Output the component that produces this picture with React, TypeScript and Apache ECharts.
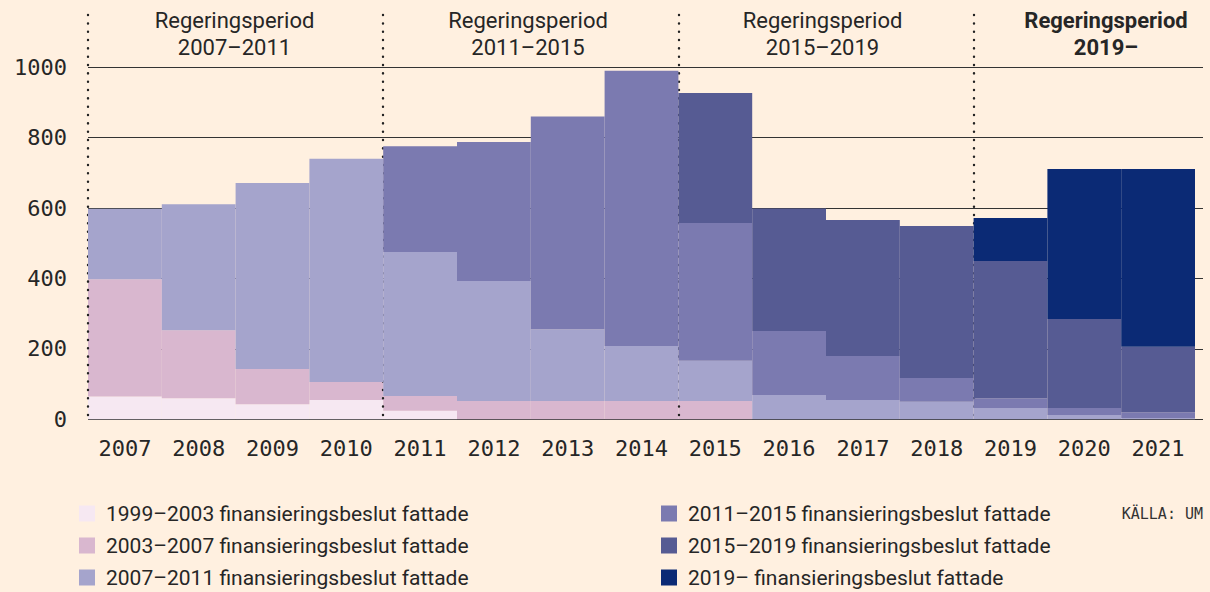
import React, { useEffect, useRef } from 'react';
import * as echarts from 'echarts';

const years = ['2007', '2008', '2009', '2010', '2011', '2012', '2013', '2014', '2015', '2016', '2017', '2018', '2019', '2020', '2021'];

const seriesNames = [
  '1999–2003 finansieringsbeslut fattade',
  '2003–2007 finansieringsbeslut fattade',
  '2007–2011 finansieringsbeslut fattade',
  '2011–2015 finansieringsbeslut fattade',
  '2015–2019 finansieringsbeslut fattade',
  '2019– finansieringsbeslut fattade',
];

const s1999 = [65, 60, 43, 55, 24, 0, 0, 0, 0, 0, 0, 0, 0, 0, 0];
const s2003 = [333, 193, 100, 51, 42, 52, 52, 52, 52, 0, 0, 0, 0, 0, 0];
const s2007 = [200, 358, 528, 634, 409, 341, 204, 156, 114, 69, 55, 50, 32, 12, 4];
const s2011 = [0, 0, 0, 0, 301, 395, 604, 782, 392, 182, 125, 67, 28, 20, 16];
const s2015 = [0, 0, 0, 0, 0, 0, 0, 0, 369, 348, 386, 432, 390, 253, 186];
const s2019 = [0, 0, 0, 0, 0, 0, 0, 0, 0, 0, 0, 0, 122, 426, 505];

const periodLabels = [
  'Regeringsperiod\n2007–2011',
  'Regeringsperiod\n2011–2015',
  'Regeringsperiod\n2015–2019',
  'Regeringsperiod\n2019–',
];

const colors = ['#f6e8f2', '#d9b7cf', '#a5a4cc', '#7b7ab0', '#565b93', '#0b2a75'];

const TEXT = '#262626';

export default function App() {
  const ref = useRef<HTMLDivElement>(null);

  useEffect(() => {
    if (!ref.current) return;
    const chart = echarts.init(ref.current, undefined, { renderer: 'svg' });
    const data = [s1999, s2003, s2007, s2011, s2015, s2019];
    const periodX = [234.5, 528, 822.5, 1106];

    const legendBase = {
      top: 503,
      height: 110,
      orient: 'vertical',
      padding: 0,
      itemWidth: 16,
      itemHeight: 16,
      itemGap: 11,
      icon: 'rect',
      selectedMode: false,
      textStyle: { color: TEXT, fontSize: 21, lineHeight: 16, fontFamily: 'Roboto', padding: [0, 0, 0, 6] },
    };

    const option: any = {
      animation: false,
      backgroundColor: '#fff0e0',
      grid: [
        { left: 88, top: 67.3, width: 1107, height: 352, containLabel: false },
        { left: 88, top: 67.3, width: 1115, height: 352, containLabel: false },
        { left: 88, top: 15, width: 1107, height: 404.3, containLabel: false },
      ],
      xAxis: [
        {
          type: 'category',
          gridIndex: 0,
          data: years,
          axisLine: { show: false },
          axisTick: { show: false },
          splitLine: { show: false },
          axisLabel: { color: TEXT, fontSize: 22, fontFamily: 'DejaVu Sans Mono', margin: 18 },
        },
        {
          type: 'value',
          gridIndex: 1,
          min: 0,
          max: 1,
          show: false,
        },
        {
          type: 'value',
          gridIndex: 2,
          min: 0,
          max: 15,
          interval: 4,
          z: 3,
          axisLine: { show: false },
          axisTick: { show: false },
          axisLabel: { show: false },
          splitLine: {
            show: true,
            showMinLine: true,
            showMaxLine: false,
            lineStyle: { color: '#222', width: 2.4, type: [0.1, 8.23], cap: 'round' },
          },
        },
      ],
      yAxis: [
        { type: 'value', gridIndex: 0, min: 0, max: 1000, show: false },
        {
          type: 'value',
          gridIndex: 1,
          min: 0,
          max: 1000,
          interval: 200,
          z: 0,
          axisLine: { show: false },
          axisTick: { show: false },
          axisLabel: {
            color: TEXT,
            fontSize: 22,
            fontFamily: 'DejaVu Sans Mono',
            margin: 21,
            formatter: (v: number) => String(v),
          },
          splitLine: { show: true, lineStyle: { color: '#333', width: 1 } },
        },
        { type: 'value', gridIndex: 2, min: 0, max: 1, show: false },
      ],
      legend: [
        { ...legendBase, left: 79, data: seriesNames.slice(0, 3) },
        { ...legendBase, left: 661, data: seriesNames.slice(3) },
      ],
      graphic: [
        ...periodLabels.map((t, i) => ({
          type: 'text',
          x: periodX[i],
          y: 7,
          z: 10,
          style: {
            text: t,
            align: 'center',
            verticalAlign: 'top',
            fontSize: 22,
            lineHeight: 27,
            fontFamily: 'Roboto',
            fontWeight: i === 3 ? 'bold' : 'normal',
            fill: TEXT,
          },
        })),
        {
          type: 'text',
          right: 7,
          top: 506,
          style: {
            text: 'KÄLLA: UM',
            fontSize: 15,
            fontFamily: 'DejaVu Sans Mono',
            fill: '#333',
          },
        },
      ],
      series: data.map((d, i) => ({
        name: seriesNames[i],
        type: 'bar',
        stack: 'total',
        xAxisIndex: 0,
        yAxisIndex: 0,
        barCategoryGap: '0%',
        z: i < 2 ? 1 : 5,
        itemStyle: { color: colors[i] },
        emphasis: { disabled: true },
        data: d,
      })),
    };

    chart.setOption(option);
    return () => chart.dispose();
  }, []);

  return <div ref={ref} style={{ position: 'fixed', left: 0, top: 0, width: 1210, height: 592 }} />;
}
